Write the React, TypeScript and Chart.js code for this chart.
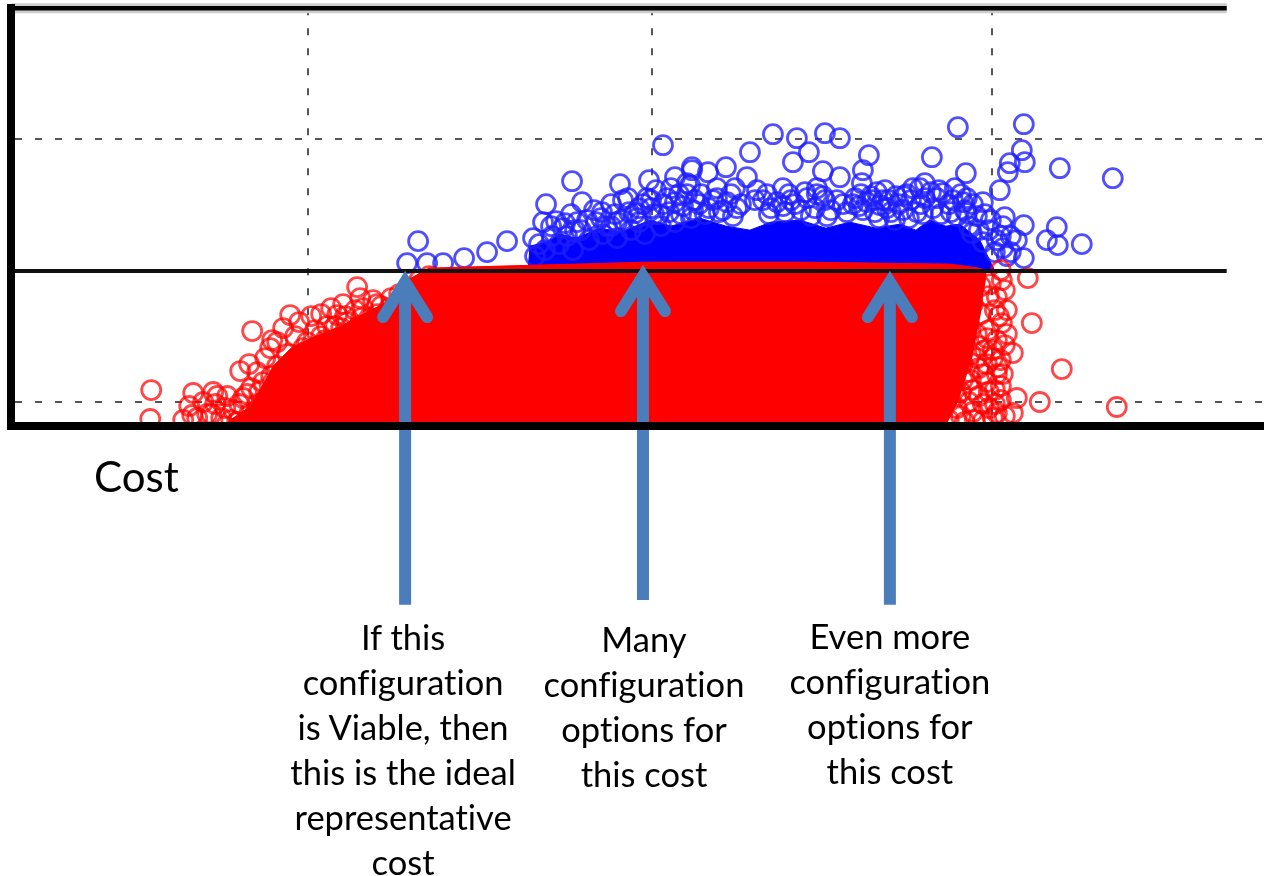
import React, { useEffect, useRef } from "react";
import { Chart, registerables } from "chart.js";

Chart.register(...registerables);

// Cost axis runs 0..1253, the unnamed vertical axis 0..418.
const gridCosts = [297, 641, 981];
const gridLevels = [24, 287];
const viabilityLevel = 155;
const lineEndCost = 1216;
const topLevel = 418;

const viableOutliers = [
  [652,281],[561,245],[535,222],[571,224],[591,214],[407,185],[396,163],[416,163],[432,163],[453,168],[476,174],[496,185],
  [522,188],[532,204],[554,203],[609,242],[617,228],[638,246],[664,249],[681,259],[624,213],[636,228],[656,228],[676,243],
  [762,292],[786,288],[814,293],[829,288],[947,299],[739,274],[782,264],[798,274],[858,271],[921,269],[955,253],[681,256],
  [697,254],[715,259],[736,249],[812,255],[829,249],[852,256],[851,243],[746,236],[772,238],[885,230],[909,238],[914,243],
  [932,233],[956,213],[961,193],[869,221],[806,238],[679,241],[706,238],[1013,302],[1049,258],[1102,248],[1011,276],[999,263],
  [1014,264],[997,254],[989,236],[994,209],[1013,201],[1046,199],[1006,186],[1036,186],[1047,181],[1071,182],[992,178],[1013,168],
];
const viableBand = [
  [524,170],[528,182],[534,176],[541,190],[548,182],[556,190],[562,176],[570,196],[578,186],[585,204],[592,192],[600,200],
  [606,188],[612,206],[620,196],[628,204],[634,192],[643,212],[650,200],[658,214],[664,204],[672,220],[680,208],[688,222],
  [694,212],[702,226],[708,214],[716,224],[722,210],[730,222],[752,226],[758,212],[766,224],[774,214],[780,226],[790,216],
  [796,228],[804,218],[812,230],[820,216],[826,226],[836,214],[844,228],[852,216],[860,230],[868,208],[876,218],[884,206],
  [892,216],[900,226],[906,214],[914,228],[922,218],[928,236],[938,222],[946,210],[952,224],[958,200],[966,210],[972,184],
  [978,196],[984,174],[990,190],[996,170],[545,205],[560,212],[583,216],[600,222],[612,226],[628,218],[645,236],[660,238],
  [668,232],[690,232],[724,238],[862,226],[874,236],[893,230],[920,234],[940,214],[950,232],
  [540,200],[552,198],[566,204],[576,206],[590,208],[604,212],[618,214],[632,222],[640,226],[652,222],[664,224],[676,232],
  [684,226],[706,228],[720,232],[744,226],[756,232],[778,232],
  [794,234],[806,232],[814,226],[842,222],[850,232],[856,224],[866,234],[872,226],[880,214],[888,222],
  [896,232],[902,238],[910,222],[926,228],[944,238],[954,216],[962,222],[968,196],[974,212],[980,206],
  [986,186],[992,200],[1000,190],[1000,174],
  [626,208],[648,212],[670,212],[682,216],[698,218],[712,216],[726,218],[760,218],[772,220],[784,222],[800,210],[816,210],
  [832,222],[848,220],[864,214],[878,226],[898,208],[912,212],[930,212],[942,226],[956,228],[972,224],[640,218],[606,204],
  [596,200],[564,196],
];
const unviableLeft = [
  [140,36],[139,7],[182,33],[202,34],[229,55],[241,95],[279,111],[346,139],[326,111],[349,128],[272,98],[261,86],[259,78],[181,11],
  [172,6],[178,20],[186,8],[192,24],[196,12],[204,22],[210,8],[216,30],[222,16],[226,4],[232,28],[238,12],[240,38],[246,22],
  [250,6],[252,44],[258,30],[260,14],[238,62],[246,54],[254,68],[260,50],[266,84],[266,60],[270,40],[274,20],[276,72],[280,54],
  [284,90],[286,34],[288,104],[292,70],[296,84],[298,50],[300,110],[304,96],[306,64],[310,112],[314,86],[318,74],[320,118],[324,100],
  [328,88],[332,122],[336,104],[340,92],[344,116],[348,100],[352,118],[358,108],[362,126],[366,112],[370,120],[376,110],[380,128],[384,120],
  [388,132],[392,122],[398,138],[402,128],[408,146],[412,136],
  [200,12],[206,30],[214,18],[220,6],[228,22],[236,32],[244,8],[248,34],[254,16],[262,26],[266,6],[272,50],[278,28],[282,64],
  [288,44],[292,78],[296,30],[300,60],[304,76],[310,90],[312,52],[316,100],[322,64],[326,78],[330,98],[334,110],[338,70],[342,84],
  [346,96],[350,108],[354,82],[358,94],[362,104],[366,122],[370,94],[374,104],[378,118],[382,100],[386,112],[390,106],[396,122],[400,114],
  [404,134],[408,118],[414,128],[420,142],[418,150],
];
const unviableRight = [
  [1017,148],[991,146],[1021,103],[1002,73],[1051,57],[1029,24],[1106,19],[1006,28],[986,129],[991,103],[987,59],[1002,13],[986,13],[994,81],
  [978,130],[984,116],[970,112],[978,96],[966,92],[986,86],[974,76],[960,72],[982,68],[968,58],[952,62],[976,44],[960,46],[944,50],
  [984,36],[968,30],[950,34],[934,38],[978,18],[962,14],[946,18],[930,22],[920,8],[938,6],[954,4],[972,5],[990,40],[916,30],
  [924,52],[936,70],[948,84],[958,102],[944,106],[932,92],[920,76],[912,54],[904,40],[908,16],[962,122],[950,124],[970,140],[956,140],
  [976,88],[968,80],[982,76],[990,66],[976,62],[966,68],[958,54],[986,52],[972,52],[962,36],[978,34],[990,26],[972,22],[984,22],
  [958,24],[950,10],[964,6],[982,8],[994,10],[946,30],[952,46],[992,52],[996,92],[996,116],[988,110],[980,142],[994,136],[990,156],
];

// Outline of the saturated parts of each cloud: an upper edge and, where it lifts off the axis, a lower edge.
const unviableMassCost = [212,222,240,250,262,280,300,330,352,372,385,400,418,489,639,789,939,968,976];
const unviableMassLevel = [0,8,20,38,60,78,88,100,112,122,132,148,158,160,164,164,162,158,156];
const unviableFloorCost = [212,935,948,955,962,966,970,972,975,976];
const unviableFloorLevel = [0,0,26,48,70,92,112,128,146,156];
const viableMassCost = [517,519,535,549,565,589,610,639,660,689,715,739,760,789,815,839,865,889,905,919,935,949,969,984];
const viableMassLevel = [155,180,184,192,188,198,194,206,200,208,200,196,204,206,198,204,198,202,196,206,200,202,186,155];

const arrowCosts = [394,632,879];
const arrowTips = [156,162,156];
const arrowTails = [-179,-174,-179];

const captions = [
  { cost: 392, level: -188, lines: ["If this","configuration","is Viable, then","this is the ideal","representative","cost"] },
  { cost: 633, level: -190, lines: ["Many","configuration","options for","this cost"] },
  { cost: 879, level: -187, lines: ["Even more","configuration","options for","this cost"] },
];

const toPoints = (rows: number[][]) => rows.map(([x, y]) => ({ x, y }));
const zip = (xs: number[], ys: number[]) => xs.map((x, i) => ({ x, y: ys[i] }));

const arrowPlugin = {
  id: "arrows",
  afterDatasetsDraw(chart: any) {
    const { ctx, scales } = chart;
    const sx = scales.x, sy = scales.y;
    ctx.save();
    ctx.strokeStyle = "#4a7dba";
    ctx.lineWidth = 12;
    arrowCosts.forEach((c, i) => {
      const x = sx.getPixelForValue(c);
      ctx.lineCap = "butt";
      ctx.beginPath();
      ctx.moveTo(x, sy.getPixelForValue(arrowTails[i]));
      ctx.lineTo(x, sy.getPixelForValue(arrowTips[i] - 12));
      ctx.stroke();
      ctx.lineCap = "round";
      ctx.lineJoin = "miter";
      ctx.beginPath();
      ctx.moveTo(sx.getPixelForValue(c - 22), sy.getPixelForValue(arrowTips[i] - 47));
      ctx.lineTo(x, sy.getPixelForValue(arrowTips[i] - 12));
      ctx.lineTo(sx.getPixelForValue(c + 22), sy.getPixelForValue(arrowTips[i] - 47));
      ctx.stroke();
    });
    ctx.restore();
  },
};

// Chart.js keeps at least the ring's overflow (12px) as padding on every side,
// so the canvas is a little larger than the page and sits slightly off its corner.
const canvasLeft = -1;
const canvasTop = -4;
const canvasWidth = 1277;
const canvasHeight = 880;

export default function App() {
  const ref = useRef<HTMLCanvasElement | null>(null);
  const [boxes, setBoxes] = React.useState<any[]>([]);

  useEffect(() => {
    document.body.style.margin = "0";
    document.body.style.background = "#fff";
    const ring = (color: string) => ({
      showLine: false,
      pointStyle: "circle",
      pointRadius: 9.5,
      pointBorderWidth: 2.8,
      pointBorderColor: color,
      pointBackgroundColor: "transparent",
    });
    const mass = (color: string, fill: any) => ({
      showLine: true,
      fill,
      backgroundColor: color,
      borderColor: color,
      borderWidth: 1,
      pointRadius: 0,
      tension: 0,
    });
    const rule = (level: number, color: string, width: number) => ({
      showLine: true,
      data: [{ x: 0, y: level }, { x: lineEndCost, y: level }],
      borderColor: color,
      borderWidth: width,
      pointRadius: 0,
      clip: false,
    });
    const chart = new Chart(ref.current as HTMLCanvasElement, {
      type: "scatter",
      data: {
        datasets: [
          { ...rule(viabilityLevel, "#111111", 4), order: 0 },
          { ...rule(topLevel, "#000000", 4.5), order: 0 },
          { ...rule(topLevel, "#cccccc", 10), order: 1 },
          { ...ring("rgba(255,0,0,0.72)"), data: toPoints([...unviableLeft, ...unviableRight]), order: 2 },
          { ...mass("#ff0000", 5), data: zip(unviableMassCost, unviableMassLevel), order: 3 },
          { showLine: true, fill: false, borderWidth: 0, borderColor: "rgba(0,0,0,0)", pointRadius: 0, data: zip(unviableFloorCost, unviableFloorLevel), order: 3 },
          { ...ring("rgba(30,30,255,0.78)"), data: toPoints([...viableOutliers, ...viableBand]), order: 4 },
          { ...mass("#0000ff", { value: viabilityLevel }), data: zip(viableMassCost, viableMassLevel), order: 5 },
        ] as any,
      },
      options: {
        animation: false,
        responsive: false,
        devicePixelRatio: 1,
        layout: { padding: { left: 12, right: 12, top: 12, bottom: 450 } },
        plugins: { legend: { display: false }, tooltip: { enabled: false } },
        scales: {
          x: {
            type: "linear",
            min: 0,
            max: 1253,
            afterBuildTicks: (s: any) => { s.ticks = gridCosts.map((value) => ({ value })); },
            ticks: { display: false },
            grid: { color: "#555555", lineWidth: 2, drawTicks: false } as any,
            border: { display: true, color: "#000000", width: 8, z: 1, dash: [7, 13] },
          },
          y: {
            type: "linear",
            min: 0,
            max: 418,
            afterBuildTicks: (s: any) => { s.ticks = gridLevels.map((value) => ({ value })); },
            ticks: { display: false },
            grid: { color: "#555555", lineWidth: 2, drawTicks: false } as any,
            border: { display: true, color: "#000000", width: 8, z: 1, dash: [7, 13] },
          },
        },
      } as any,
      plugins: [arrowPlugin],
    });
    const sx = chart.scales.x, sy = chart.scales.y;
    setBoxes(captions.map((c) => ({ left: sx.getPixelForValue(c.cost) + canvasLeft, top: sy.getPixelForValue(c.level) + canvasTop, lines: c.lines })));
    return () => chart.destroy();
  }, []);

  return (
    <div style={{ position: "relative", width: 1264, height: 876, overflow: "hidden", fontFamily: "Lato, sans-serif", color: "#000", fontVariantLigatures: "none" }}>
      <canvas ref={ref} width={canvasWidth} height={canvasHeight} style={{ position: "absolute", left: canvasLeft, top: canvasTop, display: "block", width: canvasWidth, height: canvasHeight }} />
      <div style={{ position: "absolute", left: 94, top: 450, fontSize: 42, lineHeight: "52px" }}>Cost</div>
      {boxes.map((b, i) => (
        <div key={i} style={{ position: "absolute", left: b.left - 140, top: b.top, width: 280, textAlign: "center", fontSize: 34.5, lineHeight: "45px" }}>
          {b.lines.map((l: string) => <div key={l}>{l}</div>)}
        </div>
      ))}
    </div>
  );
}
